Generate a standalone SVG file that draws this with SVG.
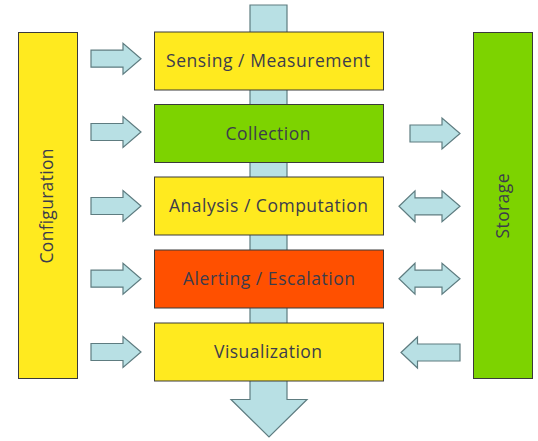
<svg xmlns="http://www.w3.org/2000/svg" xmlns:xlink="http://www.w3.org/1999/xlink" width="538" height="441" viewBox="0 0 538 441">
  <style>
    .arrow { fill: #B8E0E4; stroke: #5E7C80; stroke-width: 1.2; stroke-linejoin: miter; }
    .box { stroke: #3A3A3A; stroke-width: 1; }
    .yellow { fill: #FFEA1F; }
    .green { fill: #7DD300; }
    .red { fill: #FF5000; }
    .lbl { font-family: "Open Sans", "Liberation Sans", sans-serif; font-size: 17.5px; fill: #3C3C4C; text-anchor: middle; }
  </style>
  <defs>
    <path id="rarrow" d="M0,-8.5 H32 V-15.5 L50,0 L32,15.5 V8.5 H0 Z"/>
    <path id="darrow" d="M0,0 L16,-15.5 V-8.5 H43 V-15.5 L61,0 L43,15.5 V8.5 H16 V15.5 Z"/>
    <path id="larrow" d="M0,0 L16.5,-15.5 V-8.5 H59 V8.5 H16.5 V15.5 Z"/>
  </defs>
  <rect width="538" height="441" fill="#FFFFFF"/>

  <g id="connectors">
    <path id="flow" class="arrow" d="M250,5 H287 V399.5 H307 L269,437 L231,399.5 H250 Z"/>
    <use xlink:href="#rarrow" class="arrow" transform="translate(91,58.7)"/>
    <use xlink:href="#rarrow" class="arrow" transform="translate(91,132)"/>
    <use xlink:href="#rarrow" class="arrow" transform="translate(91,206)"/>
    <use xlink:href="#rarrow" class="arrow" transform="translate(91,278.7)"/>
    <use xlink:href="#rarrow" class="arrow" transform="translate(91,352)"/>
    <use xlink:href="#rarrow" class="arrow" transform="translate(410,133.5)"/>
    <use xlink:href="#darrow" class="arrow" transform="translate(399,206.3)"/>
    <use xlink:href="#darrow" class="arrow" transform="translate(399,278.7)"/>
    <use xlink:href="#larrow" class="arrow" transform="translate(401,352.5)"/>
  </g>

  <g id="configuration">
    <rect class="box yellow" x="18.5" y="32.5" width="59" height="346"/>
    <text class="lbl" transform="translate(52.5,206) rotate(-90)" textLength="115" lengthAdjust="spacing">Configuration</text>
  </g>

  <g id="storage">
    <rect class="box green" x="473.5" y="32.5" width="59" height="346"/>
    <text class="lbl" transform="translate(509,206) rotate(-90)" textLength="65" lengthAdjust="spacing">Storage</text>
  </g>

  <g id="sensing">
    <rect class="box yellow" x="154.5" y="32" width="229" height="58"/>
    <text class="lbl" x="268" y="67" textLength="204" lengthAdjust="spacing">Sensing / Measurement</text>
  </g>

  <g id="collection">
    <rect class="box green" x="154.5" y="104.5" width="229" height="58"/>
    <text class="lbl" x="268" y="139.5" textLength="85" lengthAdjust="spacing">Collection</text>
  </g>

  <g id="analysis">
    <rect class="box yellow" x="154.5" y="177" width="229" height="58"/>
    <text class="lbl" x="268.5" y="212" textLength="199" lengthAdjust="spacing">Analysis / Computation</text>
  </g>

  <g id="alerting">
    <rect class="box red" x="154.5" y="250" width="229" height="58"/>
    <text class="lbl" x="269" y="285" textLength="172" lengthAdjust="spacing">Alerting / Escalation</text>
  </g>

  <g id="visualization">
    <rect class="box yellow" x="154.5" y="323" width="229" height="58"/>
    <text class="lbl" x="268" y="358" textLength="108" lengthAdjust="spacing">Visualization</text>
  </g>
</svg>
